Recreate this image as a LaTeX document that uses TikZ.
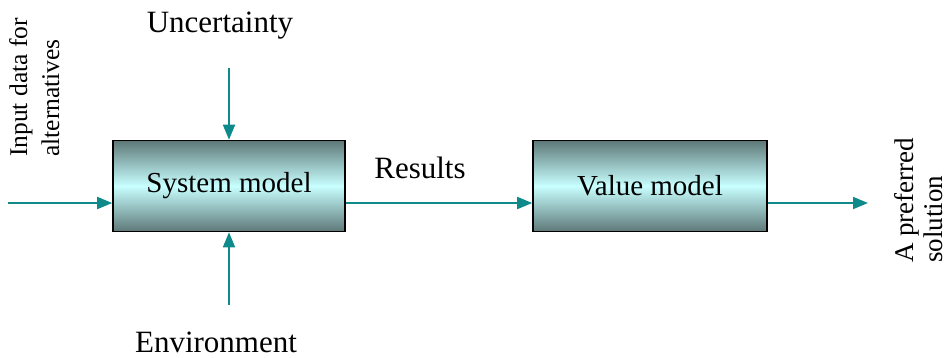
\documentclass[tikz,border=0pt]{standalone}
\usepackage{fontspec}
\setmainfont{Liberation Serif}
\usetikzlibrary{arrows.meta}
\definecolor{tealc}{HTML}{0E8A8A}
\definecolor{boxdark}{HTML}{5E7878}
\definecolor{boxlight}{HTML}{C8FFFF}
\tikzset{
  modelbox/.style={draw=black, line width=1.6pt, shading=axis, top color=boxdark, bottom color=boxdark, middle color=boxlight, minimum height=91pt, inner sep=0pt, font=\fontsize{29}{32}\selectfont},
  lbl/.style={inner sep=0pt, font=\fontsize{31}{34}\selectfont},
  flow/.style={draw=tealc, line width=1.8pt, -{Triangle[length=15pt,width=12pt]}},
}
\begin{document}
\begin{tikzpicture}[x=1pt,y=-1pt]
\useasboundingbox (0,0) rectangle (952,357);
\node[modelbox, minimum width=232pt] (sys) at (229,186) {System model};
\node[modelbox, minimum width=234pt] (val) at (650,186) {Value model};
\node[lbl, anchor=base] (unc) at (220,32) {Uncertainty};
\node[lbl, anchor=base] (env) at (216,352) {Environment};
\node[lbl, anchor=base] (res) at (420,178) {Results};
\node[inner sep=0pt, rotate=90, align=left, anchor=north west, font=\fontsize{25.5}{32}\selectfont] (inp) at (9,157) {Input data for\\alternatives};
\node[inner sep=0pt, rotate=90, align=left, anchor=north west, font=\fontsize{27}{29}\selectfont] (pref) at (894,263) {A preferred\\solution};
\coordinate (inS) at (8,203);
\coordinate (outE) at (868,203);
\coordinate (uncS) at (229,68);
\coordinate (envS) at (229,305);
\draw[flow] (inS) -- (inS -| sys.west);
\draw[flow] (inS -| sys.east) -- (inS -| val.west);
\draw[flow] (inS -| val.east) -- (outE);
\draw[flow] (uncS) -- (uncS |- sys.north);
\draw[flow] (envS) -- (envS |- sys.south);
\end{tikzpicture}
\end{document}
